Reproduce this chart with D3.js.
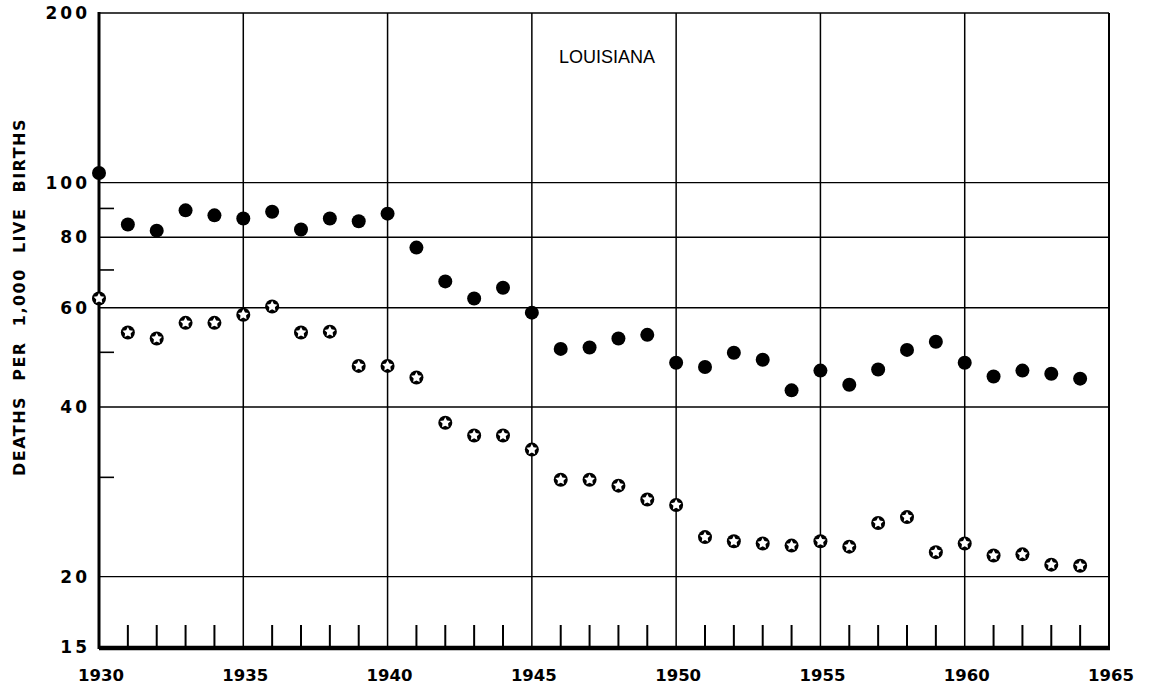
<!DOCTYPE html>
<html>
<head>
<meta charset="utf-8">
<script src="https://cdn.jsdelivr.net/npm/d3@7"></script>
<style>
  html, body { margin: 0; padding: 0; background: #fff; }
  svg { display: block; }
</style>
</head>
<body>
<div id="chart"></div>
<script>
// ---- data ----
const years = [1930,1931,1932,1933,1934,1935,1936,1937,1938,1939,
               1940,1941,1942,1943,1944,1945,1946,1947,1948,1949,
               1950,1951,1952,1953,1954,1955,1956,1957,1958,1959,
               1960,1961,1962,1963,1964];
const filledSeries = [104, 84.3, 82.2, 89.3, 87.5, 86.4, 88.8, 82.6, 86.4, 85.4,
                      88.1, 76.7, 66.8, 62.3, 65.1, 58.8, 50.7, 51.0, 52.9, 53.7,
                      47.9, 47.1, 49.9, 48.5, 42.8, 46.4, 43.8, 46.6, 50.5, 52.2,
                      47.9, 45.3, 46.4, 45.8, 44.9];
const starSeries = [62.3, 54.2, 52.9, 56.4, 56.4, 58.3, 60.3, 54.2, 54.4, 47.3,
                    47.3, 45.1, 37.5, 35.6, 35.6, 33.6, 29.7, 29.7, 29.0, 27.4,
                    26.8, 23.5, 23.1, 22.9, 22.7, 23.1, 22.6, 24.9, 25.5, 22.1,
                    22.9, 21.8, 21.9, 21.0, 20.9];
const xTickLabels = [1930, 1935, 1940, 1945, 1950, 1955, 1960, 1965];
const yTickLabels = [15, 20, 40, 60, 80, 100, 200];
const yGridValues = [20, 40, 60, 80, 100];
const yMinorTicks = [30, 50, 70, 90];
const chartTitle = "LOUISIANA";
const yAxisTitle = "DEATHS PER 1,000 LIVE BIRTHS";

// ---- layout ----
const W = 1150, H = 685;
const svg = d3.select("#chart").append("svg").attr("width", W).attr("height", H);

const x = d3.scaleLinear().domain([1930, 1965]).range([99, 1109]);
const y = d3.scaleLog().domain([15, 200]).range([647, 13]);

const ink = "#000";
const labelFont = "'DejaVu Sans', sans-serif";

// horizontal grid lines
svg.append("g").selectAll("line").data(yGridValues).join("line")
  .attr("x1", x(1930)).attr("x2", x(1965))
  .attr("y1", d => y(d)).attr("y2", d => y(d))
  .attr("stroke", ink).attr("stroke-width", 1.4);

// top border at 200
svg.append("line").attr("x1", x(1930)).attr("x2", x(1965))
  .attr("y1", y(200)).attr("y2", y(200)).attr("stroke", ink).attr("stroke-width", 1.6);

// vertical grid lines every 5 years
svg.append("g").selectAll("line").data([1935,1940,1945,1950,1955,1960]).join("line")
  .attr("x1", d => x(d)).attr("x2", d => x(d))
  .attr("y1", y(200)).attr("y2", y(15))
  .attr("stroke", ink).attr("stroke-width", 1.5);

// right border
svg.append("line").attr("x1", x(1965)).attr("x2", x(1965))
  .attr("y1", y(200)).attr("y2", y(15)).attr("stroke", ink).attr("stroke-width", 2);

// left axis
svg.append("line").attr("x1", x(1930)).attr("x2", x(1930))
  .attr("y1", y(200) - 1).attr("y2", y(15) + 2).attr("stroke", ink).attr("stroke-width", 3);

// minor ticks on left axis
svg.append("g").selectAll("line").data(yMinorTicks).join("line")
  .attr("x1", x(1930)).attr("x2", x(1930) + 15)
  .attr("y1", d => y(d)).attr("y2", d => y(d))
  .attr("stroke", ink).attr("stroke-width", 1.6);

// annual ticks from bottom
svg.append("g").selectAll("line").data(years.filter(d => d % 5 !== 0)).join("line")
  .attr("x1", d => x(d)).attr("x2", d => x(d))
  .attr("y1", y(15)).attr("y2", y(15) - 22)
  .attr("stroke", ink).attr("stroke-width", 2);

// bottom axis (thick)
svg.append("line").attr("x1", x(1930)).attr("x2", x(1965) + 1)
  .attr("y1", y(15) + 1).attr("y2", y(15) + 1).attr("stroke", ink).attr("stroke-width", 4.5);

// y tick labels
svg.append("g").selectAll("text").data(yTickLabels).join("text")
  .attr("x", 90).attr("y", d => y(d))
  .attr("dy", "0.36em")
  .attr("text-anchor", "end")
  .attr("font-family", labelFont).attr("font-weight", "bold")
  .attr("font-size", 17).attr("letter-spacing", 3)
  .attr("fill", ink)
  .text(d => d);

// x tick labels
svg.append("g").selectAll("text").data(xTickLabels).join("text")
  .attr("x", d => x(d) + 2).attr("y", 681)
  .attr("text-anchor", "middle")
  .attr("font-family", labelFont).attr("font-weight", "bold")
  .attr("font-size", 16.5).attr("letter-spacing", 0)
  .attr("fill", ink)
  .text(d => d);

// y axis title
svg.append("text")
  .attr("transform", "translate(24.5,297) rotate(-90)")
  .attr("text-anchor", "middle")
  .attr("font-family", labelFont).attr("font-weight", "bold")
  .attr("font-size", 16)
  .attr("letter-spacing", 1.5)
  .attr("word-spacing", 8)
  .attr("fill", ink)
  .text(yAxisTitle);

// chart title
svg.append("text")
  .attr("x", 607).attr("y", 63)
  .attr("text-anchor", "middle")
  .attr("font-family", "'Liberation Sans', sans-serif")
  .attr("font-size", 18)
  .attr("fill", ink)
  .text(chartTitle);

// filled circle series
svg.append("g").selectAll("circle").data(years.map((yr, i) => [yr, filledSeries[i]])).join("circle")
  .attr("cx", d => x(d[0])).attr("cy", d => y(d[1]))
  .attr("r", 7).attr("fill", ink);

// star-in-circle series (fat five-point star, white inside a black disc)
function starPath(outer, inner) {
  const p = d3.path();
  for (let k = 0; k < 10; k++) {
    const r = k % 2 === 0 ? outer : inner;
    const a = -Math.PI / 2 + k * Math.PI / 5;
    if (k === 0) p.moveTo(r * Math.cos(a), r * Math.sin(a));
    else p.lineTo(r * Math.cos(a), r * Math.sin(a));
  }
  p.closePath();
  return p.toString();
}
const starG = svg.append("g").selectAll("g").data(years.map((yr, i) => [yr, starSeries[i]])).join("g")
  .attr("transform", d => `translate(${x(d[0])},${y(d[1])})`);
starG.append("circle").attr("r", 7).attr("fill", ink);
starG.append("path").attr("d", starPath(5.6, 2.9)).attr("fill", "#fff");
</script>
</body>
</html>
